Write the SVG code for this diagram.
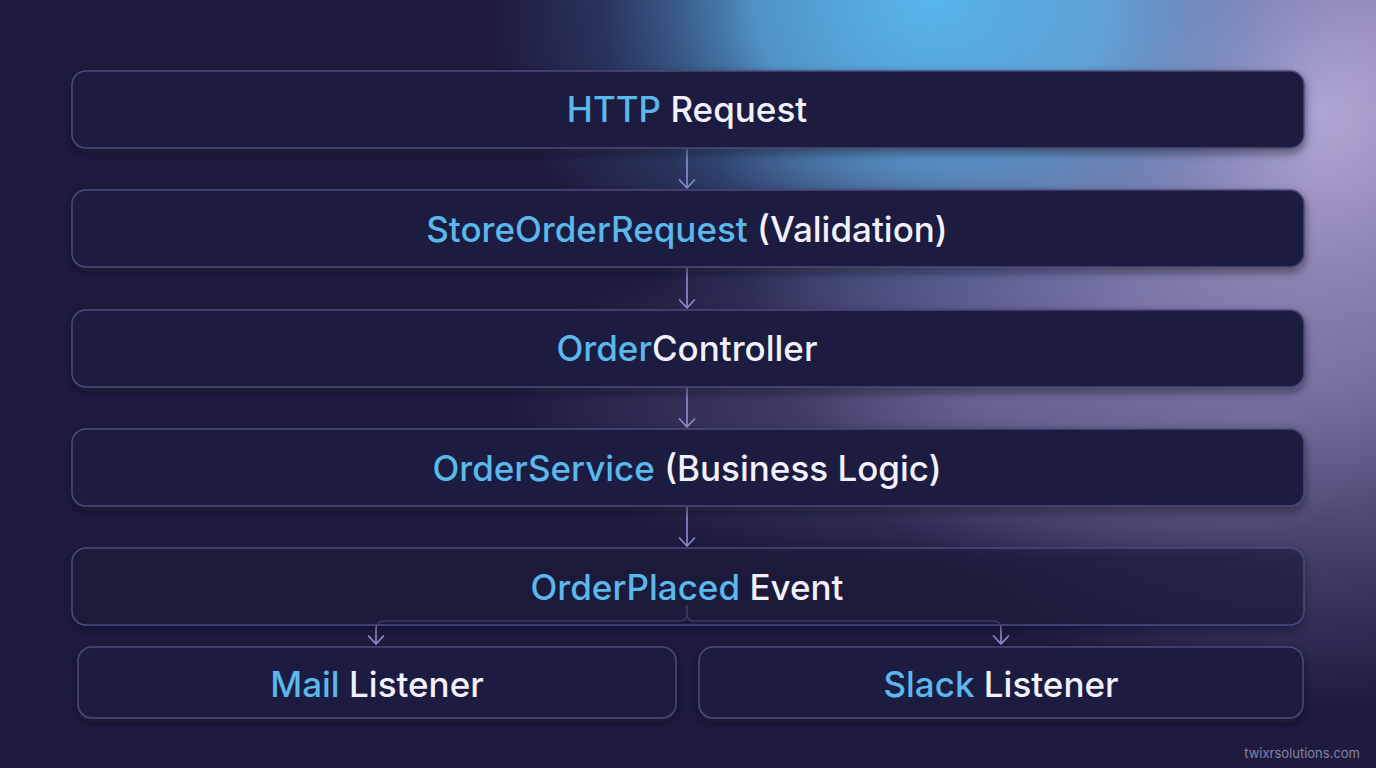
<svg xmlns="http://www.w3.org/2000/svg" width="1376" height="768" viewBox="0 0 1376 768">
<defs>
<radialGradient id="gBlue" cx="930" cy="0" r="420" gradientTransform="translate(930 0) scale(1.05 0.85) translate(-930 0)" gradientUnits="userSpaceOnUse">
<stop offset="0" stop-color="#56b6ea" stop-opacity="1"/>
<stop offset="0.4" stop-color="#5aaee4" stop-opacity="0.8"/>
<stop offset="0.75" stop-color="#4a80b8" stop-opacity="0.25"/>
<stop offset="1" stop-color="#4a80b8" stop-opacity="0"/>
</radialGradient>
<radialGradient id="gLav" cx="1320" cy="110" r="600" gradientUnits="userSpaceOnUse">
<stop offset="0" stop-color="#b4a8d6" stop-opacity="1"/>
<stop offset="0.45" stop-color="#9a90c4" stop-opacity="0.72"/>
<stop offset="1" stop-color="#8a80b8" stop-opacity="0"/>
</radialGradient>
<radialGradient id="gLow" cx="980" cy="400" r="320" gradientTransform="translate(980 400) scale(1.5 0.55) translate(-980 -400)" gradientUnits="userSpaceOnUse">
<stop offset="0" stop-color="#8e88c0" stop-opacity="0.5"/>
<stop offset="1" stop-color="#8e88c0" stop-opacity="0"/>
</radialGradient>
<filter id="sh" x="-5%" y="-30%" width="110%" height="170%">
<feDropShadow dx="0" dy="4" stdDeviation="5" flood-color="#0c0a24" flood-opacity="0.55"/>
</filter>
<marker id="ar" viewBox="0 0 12 18" refX="10" refY="9" markerWidth="12" markerHeight="18" markerUnits="userSpaceOnUse" orient="auto">
<path d="M2,1.5 L10,9 L2,16.5" fill="none" stroke="#8e90d0" stroke-width="1.7" stroke-linecap="round" stroke-linejoin="round"/>
</marker>
</defs>
<style>
.box{fill:#1e1a3f;stroke:#4c4a7c;stroke-width:1.5;filter:url(#sh)}
.t{font-family:Inter,"Noto Sans","Liberation Sans",sans-serif;font-size:35px;font-weight:500;text-anchor:middle;fill:#f2f1fa}
.b{fill:#5ab8ec}
.c{fill:none;stroke:#8e90d0;stroke-width:1.6}
.wm{font-family:Inter,"Liberation Sans",sans-serif;font-size:13px;fill:#8884a8}
</style>
<rect width="1376" height="768" fill="#1e1a3e"/>
<rect width="1376" height="768" fill="url(#gLav)"/>
<rect width="1376" height="768" fill="url(#gLow)"/>
<rect width="1376" height="768" fill="url(#gBlue)"/>

<g id="connectors">
<line class="c" x1="687" y1="149" x2="687" y2="188" marker-end="url(#ar)"/>
<line class="c" x1="687" y1="268" x2="687" y2="308" marker-end="url(#ar)"/>
<line class="c" x1="687" y1="388" x2="687" y2="427" marker-end="url(#ar)"/>
<line class="c" x1="687" y1="507" x2="687" y2="546" marker-end="url(#ar)"/>
<path class="c" d="M687,605 L687,614 Q687,621 680,621 L384,621 Q376,621 376,629 L376,644" marker-end="url(#ar)"/>
<path class="c" d="M687,614 Q687,621 694,621 L993,621 Q1001,621 1001,629 L1001,644" marker-end="url(#ar)"/>
</g>

<g id="http">
<rect class="box" x="72" y="71" width="1232" height="77" rx="14"/>
<text class="t" x="687" y="122"><tspan class="b">HTTP</tspan> Request</text>
</g>
<g id="store">
<rect class="box" x="72" y="190" width="1232" height="77" rx="14"/>
<text class="t" x="687" y="242"><tspan class="b">StoreOrderRequest</tspan> (Validation)</text>
</g>
<g id="controller">
<rect class="box" x="72" y="310" width="1232" height="77" rx="14"/>
<text class="t" x="687" y="361"><tspan class="b">Order</tspan>Controller</text>
</g>
<g id="service">
<rect class="box" x="72" y="429" width="1232" height="77" rx="14"/>
<text class="t" x="687" y="481"><tspan class="b">OrderService</tspan> (Business Logic)</text>
</g>
<g id="event">
<rect class="box" x="72" y="548" width="1232" height="77" rx="14" style="fill-opacity:0.6"/>
<text class="t" x="687" y="600"><tspan class="b">OrderPlaced</tspan> Event</text>
</g>
<g id="mail">
<rect class="box" x="78" y="647" width="598" height="71" rx="14"/>
<text class="t" x="377" y="697"><tspan class="b">Mail</tspan> Listener</text>
</g>
<g id="slack">
<rect class="box" x="699" y="647" width="604" height="71" rx="14"/>
<text class="t" x="1001" y="697"><tspan class="b">Slack</tspan> Listener</text>
</g>
<text class="wm" x="1360" y="758" text-anchor="end">twixrsolutions.com</text>
</svg>
